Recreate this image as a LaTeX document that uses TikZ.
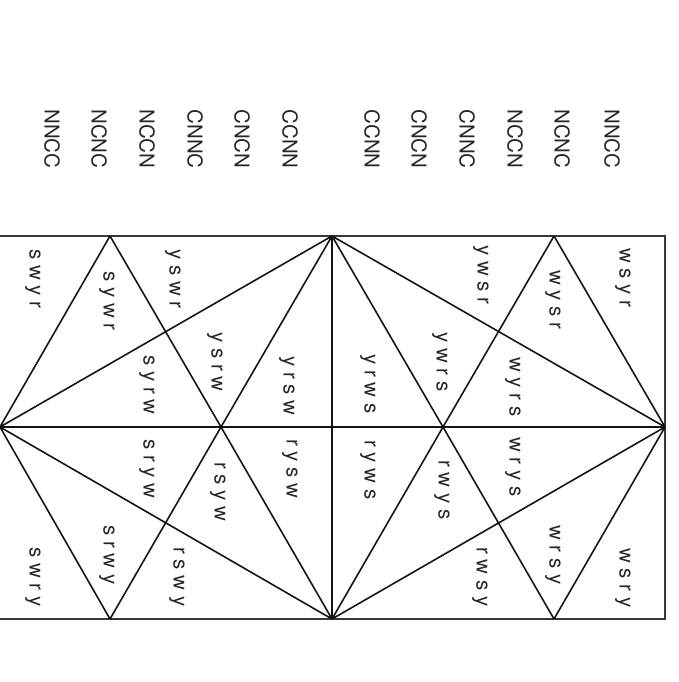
\documentclass[tikz,border=0pt]{standalone}
\usepackage{fontspec}
\setmainfont{TeX Gyre Heros}
\begin{document}
\begin{tikzpicture}[x=1pt,y=-1pt,
  frame/.style={draw=black!78,line width=2.1pt},
  edge/.style={draw=black!92,line width=1.6pt},
  lab/.style={rotate=-90,inner sep=0pt,text=black!85,font=\fontsize{20.5}{22}\selectfont},
  hdr/.style={rotate=-90,inner sep=0pt,text=black!85,font=\fontsize{20.5}{22}\selectfont}]
\useasboundingbox (0,0) rectangle (678,682);
% vertices
\coordinate (TL) at (0,236);   \coordinate (TR) at (665,236);
\coordinate (BL) at (0,619);   \coordinate (BR) at (665,619);
\coordinate (T1) at (110,236); \coordinate (T2) at (332,236); \coordinate (T3) at (554,236);
\coordinate (M0) at (0,427);   \coordinate (M1) at (221,427);
\coordinate (M2) at (443,427); \coordinate (M3) at (665,427);
\coordinate (B1) at (110,619); \coordinate (B2) at (332,619); \coordinate (B3) at (554,619);
% frame
\draw[frame] (TL) -- (TR) -- (BR) -- (BL);
% lines
\draw[edge] (M0) -- (M3);
\draw[edge] (T2) -- (B2);
\draw[edge] (T1) -- (M0) (T1) -- (M1) (M1) -- (T2) (M0) -- (T2);
\draw[edge] (T2) -- (M3) (T2) -- (M2) (M2) -- (T3) (T3) -- (M3);
\draw[edge] (M0) -- (B1) (M0) -- (B2) (M1) -- (B1) (M1) -- (B2);
\draw[edge] (M2) -- (B2) (B2) -- (M3) (M2) -- (B3) (B3) -- (M3);
% header labels
\node[hdr] (h1) at (52,139) {NNCC};
\node[hdr] (h2) at (99,139) {NCNC};
\node[hdr] (h3) at (147,139) {NCCN};
\node[hdr] (h4) at (195,139) {CNNC};
\node[hdr] (h5) at (242,139) {CNCN};
\node[hdr] (h6) at (290,139) {CCNN};
\node[hdr] (h7) at (372,139) {CCNN};
\node[hdr] (h8) at (419,139) {CNCN};
\node[hdr] (h9) at (467,139) {CNNC};
\node[hdr] (h10) at (515,139) {NCCN};
\node[hdr] (h11) at (562,139) {NCNC};
\node[hdr] (h12) at (612,139) {NNCC};
% top-left labels
\node[lab] (a1) at (33,279) {s w y r};
\node[lab] (a2) at (107,301) {s y w r};
\node[lab] (a3) at (173,279) {y s w r};
\node[lab] (a4) at (147,385) {s y r w};
\node[lab] (a5) at (215,362) {y s r w};
\node[lab] (a6) at (287,386) {y r s w};
% top-right labels
\node[lab] (b1) at (481,275) {y w s r};
\node[lab] (b2) at (553,300) {w y s r};
\node[lab] (b3) at (623,278) {w s y r};
\node[lab] (b4) at (368,384) {y r w s};
\node[lab] (b5) at (440,362) {y w r s};
\node[lab] (b6) at (513,387) {w y r s};
% bottom-left labels
\node[lab] (c1) at (147,469) {s r y w};
\node[lab] (c2) at (218,492) {r s y w};
\node[lab] (c3) at (290,469) {r y s w};
\node[lab] (c4) at (33,577) {s w r y};
\node[lab] (c5) at (107,555) {s r w y};
\node[lab] (c6) at (177,577) {r s w y};
% bottom-right labels
\node[lab] (d1) at (368,470) {r y w s};
\node[lab] (d2) at (442,490) {r w y s};
\node[lab] (d3) at (513,467) {w r y s};
\node[lab] (d4) at (480,577) {r w s y};
\node[lab] (d5) at (553,555) {w r s y};
\node[lab] (d6) at (623,578) {w s r y};
\end{tikzpicture}
\end{document}
